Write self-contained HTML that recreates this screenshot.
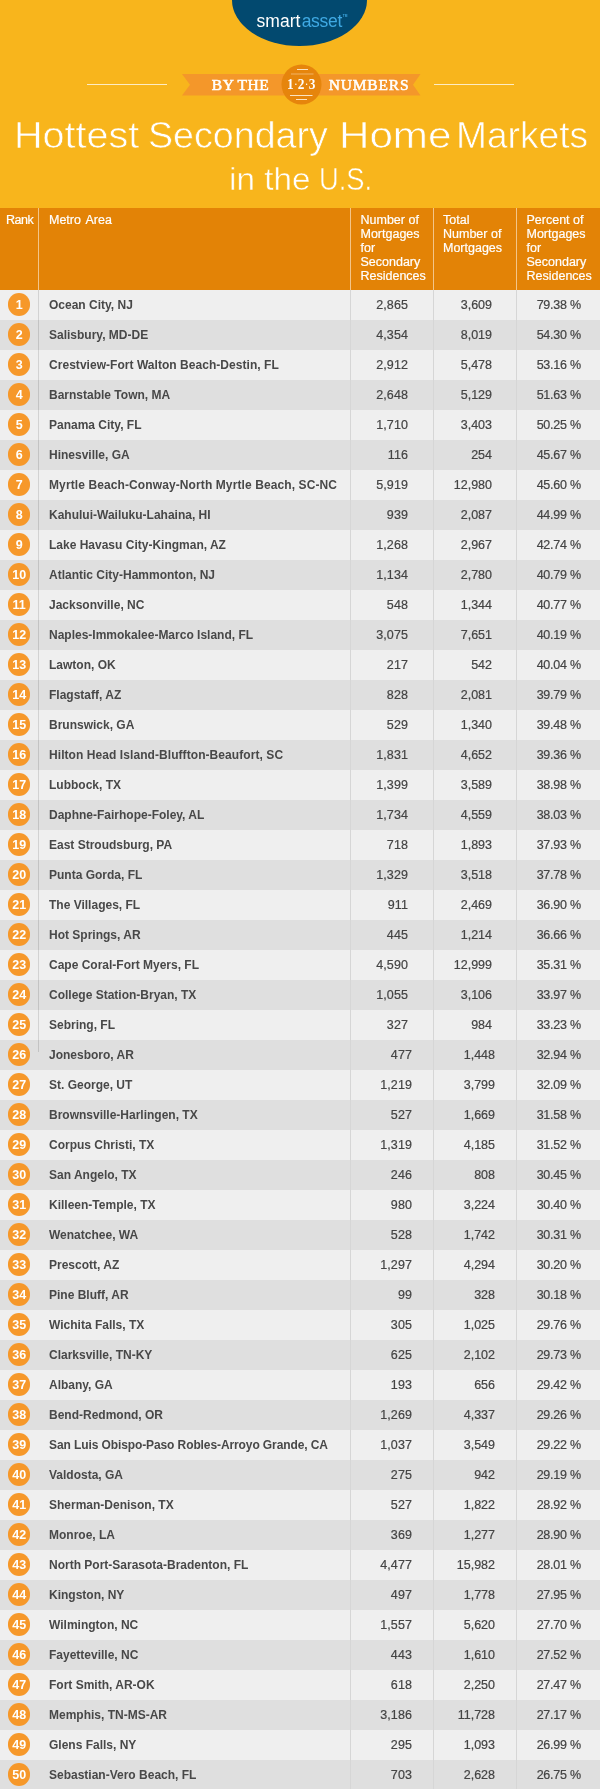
<!DOCTYPE html>
<html><head><meta charset="utf-8">
<style>
*{margin:0;padding:0;box-sizing:border-box}
html,body{width:600px;height:1789px;overflow:hidden;background:#f8b51c;font-family:"Liberation Sans",sans-serif}
#top{position:absolute;left:0;top:0;width:600px;height:208px;background:#f8b51c;overflow:hidden}
#logo{position:absolute;left:231.8px;top:-46.25px;width:135.4px;height:92.5px;border-radius:50%;background:#02496f}
.lg{position:absolute;top:9.85px;font-size:17.5px;line-height:22px;color:#fff;white-space:nowrap}
.hl{position:absolute;top:84px;height:1px;background:#fdecc4;width:80px}
#ribbon{position:absolute;left:0;top:0}
.rt{position:absolute;top:74px;height:21px;line-height:21px;font-family:"Liberation Serif",serif;font-weight:normal;-webkit-text-stroke:0.55px #fff;color:#fff;font-size:15.5px;letter-spacing:0.55px;white-space:nowrap}
.tw{position:absolute;color:#fff;white-space:nowrap;transform-origin:0 0;-webkit-text-stroke:0.6px #f8b51c}
.t1{top:115.5px;font-size:36.5px;line-height:40px}
.t2{top:161.7px;font-size:31px;line-height:36px;-webkit-text-stroke:0.5px #f8b51c}
#th{position:absolute;left:0;top:208px;width:600px;height:82px;background:#e38306;color:#fff;font-size:12.5px;line-height:14px}
#th div{position:absolute;top:5px;white-space:nowrap;-webkit-text-stroke:0.2px #fff}
#th s{position:absolute;top:0;width:1px;height:82px;background:#f3c589}
#tb{position:absolute;left:0;top:290px;width:600px}
.r{position:relative;height:30px;background:#efefef;width:600px}
.r.d{background:#dfdfdf}
.r i{position:absolute;left:8px;top:3.3px;width:22.4px;height:22.4px;border-radius:50%;background:#f6982a;color:#fff;font-style:normal;font-weight:bold;font-size:12.5px;line-height:24.4px;text-align:center}
.r b{position:absolute;left:49px;top:0;line-height:30px;font-size:12px;color:#484848;white-space:nowrap}
.r u{position:absolute;top:0;line-height:30px;font-size:12.5px;color:#444;-webkit-text-stroke:0.2px #444;text-decoration:none;text-align:right;white-space:nowrap}
.r .a{right:192px;letter-spacing:0.1px}.r .b{right:108px}.r .c{right:19px;letter-spacing:-0.25px;margin-right:0.25px}
.r.s .a{right:188px}.r.s .b{right:105px}
.vs{position:absolute;top:0;width:1px;height:1500px;background:#d6d6d6}
#top,#th,#tb{will-change:transform}
#n123 span{font-weight:normal;font-size:13px;display:inline-block;width:4.9px;text-align:center;position:relative;top:-1.8px}
</style></head><body>
<div id="top">
<div id="logo"></div>
<div class="lg" style="left:256.6px;letter-spacing:0">smart</div>
<div class="lg" style="left:301.700px;letter-spacing:-0.3px;color:#3fa9e3">asset</div>
<div class="lg" style="left:342.800px;top:13.600px;font-size:3.2px;line-height:4px;color:#3fa9e3;font-weight:bold">TM</div>
<div class="hl" style="left:87px"></div><div class="hl" style="left:434px"></div>
<svg id="ribbon" width="600" height="208" viewBox="0 0 600 208">
<polygon points="182,74 420.500,74 413,84.7 420.500,95.400 182,95.400 190,84.7" fill="#f4972a"/>
<circle cx="301.5" cy="84.5" r="20" fill="#e6850c"/>
<g stroke="#fbe3c0" stroke-width="1" fill="none">
<line x1="297" y1="69.5" x2="308" y2="69.5"/>
<line x1="291" y1="74" x2="313.5" y2="74" stroke-opacity="0.5"/>
<line x1="290" y1="95.5" x2="312.500" y2="95.5"/>
<line x1="296" y1="99.5" x2="307" y2="99.5"/>
</g>
</svg>
<div class="rt" style="left:211.800px;word-spacing:-0.5px">BY THE</div>
<div class="rt" style="left:328.800px;letter-spacing:0.8px">NUMBERS</div>
<div class="rt" id="n123" style="left:287px;top:73.300px;font-size:15.5px;letter-spacing:0;font-weight:bold;-webkit-text-stroke:0;transform:scaleX(0.86);transform-origin:0 0">1<span>·</span>2<span>·</span>3</div>
<div class="tw t1" id="w1" style="left:13.5px;transform:scaleX(1.083)">Hottest</div>
<div class="tw t1" id="w2" style="left:147.6px;transform:scaleX(1.0305)">Secondary</div>
<div class="tw t1" id="w3" style="left:339.3px;transform:scaleX(1.154)">Home</div>
<div class="tw t1" id="w4" style="left:456.3px;transform:scaleX(1.018)">Markets</div>
<div class="tw t2" id="w5" style="left:229.3px;transform:scaleX(1.075)">in the</div>
<div class="tw t2" id="w6" style="left:319.4px;transform:scaleX(0.882)">U.S.</div>
</div>
<div id="th">
<div style="left:6px;letter-spacing:-0.5px">Rank</div>
<div style="left:49px;word-spacing:1.7px">Metro Area</div>
<div style="left:360.500px">Number of<br>Mortgages<br>for<br>Secondary<br>Residences</div>
<div style="left:443px">Total<br>Number of<br>Mortgages</div>
<div style="left:526.500px">Percent of<br>Mortgages<br>for<br>Secondary<br>Residences</div>
<s style="left:38px"></s><s style="left:350px"></s><s style="left:433px"></s><s style="left:516px"></s>
</div>
<div id="tb">
<div class="r"><i>1</i><b>Ocean City, NJ</b><u class="a">2,865</u><u class="b">3,609</u><u class="c">79.38 %</u></div>
<div class="r d"><i>2</i><b>Salisbury, MD-DE</b><u class="a">4,354</u><u class="b">8,019</u><u class="c">54.30 %</u></div>
<div class="r"><i>3</i><b style="letter-spacing:0.04px">Crestview-Fort Walton Beach-Destin, FL</b><u class="a">2,912</u><u class="b">5,478</u><u class="c">53.16 %</u></div>
<div class="r d"><i>4</i><b>Barnstable Town, MA</b><u class="a">2,648</u><u class="b">5,129</u><u class="c">51.63 %</u></div>
<div class="r"><i>5</i><b>Panama City, FL</b><u class="a">1,710</u><u class="b">3,403</u><u class="c">50.25 %</u></div>
<div class="r d"><i>6</i><b>Hinesville, GA</b><u class="a">116</u><u class="b">254</u><u class="c">45.67 %</u></div>
<div class="r"><i>7</i><b style="letter-spacing:0.105px">Myrtle Beach-Conway-North Myrtle Beach, SC-NC</b><u class="a">5,919</u><u class="b">12,980</u><u class="c">45.60 %</u></div>
<div class="r d"><i>8</i><b>Kahului-Wailuku-Lahaina, HI</b><u class="a">939</u><u class="b">2,087</u><u class="c">44.99 %</u></div>
<div class="r"><i>9</i><b>Lake Havasu City-Kingman, AZ</b><u class="a">1,268</u><u class="b">2,967</u><u class="c">42.74 %</u></div>
<div class="r d"><i>10</i><b>Atlantic City-Hammonton, NJ</b><u class="a">1,134</u><u class="b">2,780</u><u class="c">40.79 %</u></div>
<div class="r"><i>11</i><b>Jacksonville, NC</b><u class="a">548</u><u class="b">1,344</u><u class="c">40.77 %</u></div>
<div class="r d"><i>12</i><b>Naples-Immokalee-Marco Island, FL</b><u class="a">3,075</u><u class="b">7,651</u><u class="c">40.19 %</u></div>
<div class="r"><i>13</i><b>Lawton, OK</b><u class="a">217</u><u class="b">542</u><u class="c">40.04 %</u></div>
<div class="r d"><i>14</i><b>Flagstaff, AZ</b><u class="a">828</u><u class="b">2,081</u><u class="c">39.79 %</u></div>
<div class="r"><i>15</i><b>Brunswick, GA</b><u class="a">529</u><u class="b">1,340</u><u class="c">39.48 %</u></div>
<div class="r d"><i>16</i><b style="letter-spacing:0.07px">Hilton Head Island-Bluffton-Beaufort, SC</b><u class="a">1,831</u><u class="b">4,652</u><u class="c">39.36 %</u></div>
<div class="r"><i>17</i><b>Lubbock, TX</b><u class="a">1,399</u><u class="b">3,589</u><u class="c">38.98 %</u></div>
<div class="r d"><i>18</i><b>Daphne-Fairhope-Foley, AL</b><u class="a">1,734</u><u class="b">4,559</u><u class="c">38.03 %</u></div>
<div class="r"><i>19</i><b>East Stroudsburg, PA</b><u class="a">718</u><u class="b">1,893</u><u class="c">37.93 %</u></div>
<div class="r d"><i>20</i><b>Punta Gorda, FL</b><u class="a">1,329</u><u class="b">3,518</u><u class="c">37.78 %</u></div>
<div class="r"><i>21</i><b>The Villages, FL</b><u class="a">911</u><u class="b">2,469</u><u class="c">36.90 %</u></div>
<div class="r d"><i>22</i><b>Hot Springs, AR</b><u class="a">445</u><u class="b">1,214</u><u class="c">36.66 %</u></div>
<div class="r"><i>23</i><b>Cape Coral-Fort Myers, FL</b><u class="a">4,590</u><u class="b">12,999</u><u class="c">35.31 %</u></div>
<div class="r d"><i>24</i><b>College Station-Bryan, TX</b><u class="a">1,055</u><u class="b">3,106</u><u class="c">33.97 %</u></div>
<div class="r"><i>25</i><b>Sebring, FL</b><u class="a">327</u><u class="b">984</u><u class="c">33.23 %</u></div>
<div class="r d s"><i>26</i><b>Jonesboro, AR</b><u class="a">477</u><u class="b">1,448</u><u class="c">32.94 %</u></div>
<div class="r s"><i>27</i><b>St. George, UT</b><u class="a">1,219</u><u class="b">3,799</u><u class="c">32.09 %</u></div>
<div class="r d s"><i>28</i><b>Brownsville-Harlingen, TX</b><u class="a">527</u><u class="b">1,669</u><u class="c">31.58 %</u></div>
<div class="r s"><i>29</i><b>Corpus Christi, TX</b><u class="a">1,319</u><u class="b">4,185</u><u class="c">31.52 %</u></div>
<div class="r d s"><i>30</i><b>San Angelo, TX</b><u class="a">246</u><u class="b">808</u><u class="c">30.45 %</u></div>
<div class="r s"><i>31</i><b>Killeen-Temple, TX</b><u class="a">980</u><u class="b">3,224</u><u class="c">30.40 %</u></div>
<div class="r d s"><i>32</i><b>Wenatchee, WA</b><u class="a">528</u><u class="b">1,742</u><u class="c">30.31 %</u></div>
<div class="r s"><i>33</i><b>Prescott, AZ</b><u class="a">1,297</u><u class="b">4,294</u><u class="c">30.20 %</u></div>
<div class="r d s"><i>34</i><b>Pine Bluff, AR</b><u class="a">99</u><u class="b">328</u><u class="c">30.18 %</u></div>
<div class="r s"><i>35</i><b>Wichita Falls, TX</b><u class="a">305</u><u class="b">1,025</u><u class="c">29.76 %</u></div>
<div class="r d s"><i>36</i><b>Clarksville, TN-KY</b><u class="a">625</u><u class="b">2,102</u><u class="c">29.73 %</u></div>
<div class="r s"><i>37</i><b>Albany, GA</b><u class="a">193</u><u class="b">656</u><u class="c">29.42 %</u></div>
<div class="r d s"><i>38</i><b>Bend-Redmond, OR</b><u class="a">1,269</u><u class="b">4,337</u><u class="c">29.26 %</u></div>
<div class="r s"><i>39</i><b style="letter-spacing:-0.1px">San Luis Obispo-Paso Robles-Arroyo Grande, CA</b><u class="a">1,037</u><u class="b">3,549</u><u class="c">29.22 %</u></div>
<div class="r d s"><i>40</i><b>Valdosta, GA</b><u class="a">275</u><u class="b">942</u><u class="c">29.19 %</u></div>
<div class="r s"><i>41</i><b>Sherman-Denison, TX</b><u class="a">527</u><u class="b">1,822</u><u class="c">28.92 %</u></div>
<div class="r d s"><i>42</i><b>Monroe, LA</b><u class="a">369</u><u class="b">1,277</u><u class="c">28.90 %</u></div>
<div class="r s"><i>43</i><b>North Port-Sarasota-Bradenton, FL</b><u class="a">4,477</u><u class="b">15,982</u><u class="c">28.01 %</u></div>
<div class="r d s"><i>44</i><b>Kingston, NY</b><u class="a">497</u><u class="b">1,778</u><u class="c">27.95 %</u></div>
<div class="r s"><i>45</i><b>Wilmington, NC</b><u class="a">1,557</u><u class="b">5,620</u><u class="c">27.70 %</u></div>
<div class="r d s"><i>46</i><b>Fayetteville, NC</b><u class="a">443</u><u class="b">1,610</u><u class="c">27.52 %</u></div>
<div class="r s"><i>47</i><b>Fort Smith, AR-OK</b><u class="a">618</u><u class="b">2,250</u><u class="c">27.47 %</u></div>
<div class="r d s"><i>48</i><b>Memphis, TN-MS-AR</b><u class="a">3,186</u><u class="b">11,728</u><u class="c">27.17 %</u></div>
<div class="r s"><i>49</i><b>Glens Falls, NY</b><u class="a">295</u><u class="b">1,093</u><u class="c">26.99 %</u></div>
<div class="r d s"><i>50</i><b>Sebastian-Vero Beach, FL</b><u class="a">703</u><u class="b">2,628</u><u class="c">26.75 %</u></div><div class="vs" style="left:38px;height:762px;background:rgba(0,0,0,0.12)"></div><div class="vs" style="left:350px"></div><div class="vs" style="left:433px"></div><div class="vs" style="left:516px"></div>
</div>
</body></html>
